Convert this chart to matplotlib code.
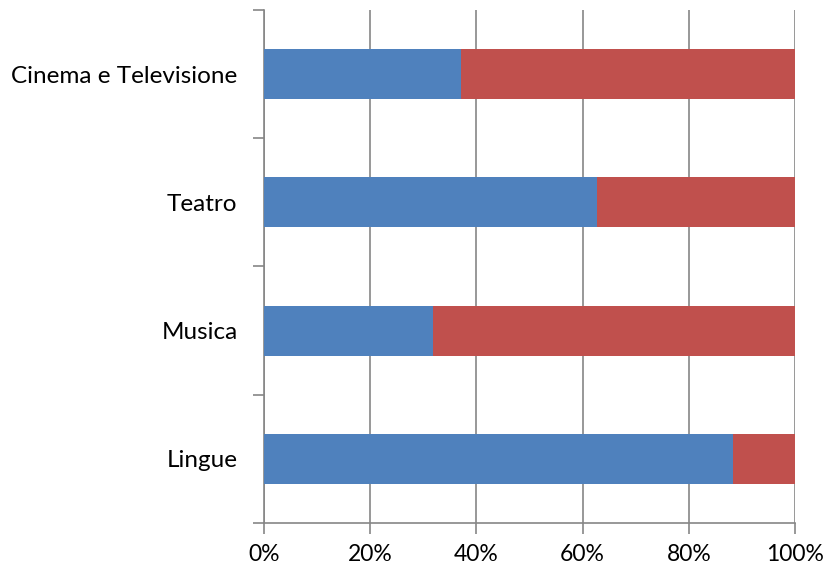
import matplotlib.pyplot as plt
import numpy as np

plt.rcParams['font.family'] = ['Lato', 'DejaVu Sans']

# categorie dal basso verso l'alto
categorie = ['Lingue', 'Musica', 'Teatro', 'Cinema e Televisione']
serie1 = np.array([88.3, 31.8, 62.7, 37.1])
serie2 = 100 - serie1

fig = plt.figure(figsize=(8.28, 5.67), dpi=100)
ax = fig.add_axes([0.3188, 0.0776, 0.6413, 0.9048])

y = np.arange(len(categorie))
ax.barh(y, serie1, height=0.39, color='#4F81BD', zorder=3)
ax.barh(y, serie2, left=serie1, height=0.39, color='#C0504D', zorder=3)

ax.set_xlim(0, 100)
ax.set_ylim(-0.5, len(categorie) - 0.5)
ax.set_xticks(np.arange(0, 101, 20))
ax.set_xticklabels([f'{v}%' for v in range(0, 101, 20)])
ax.set_yticks(y)
ax.set_yticklabels(categorie)
ax.set_yticks(np.arange(-0.5, len(categorie)), minor=True)

grigio = '#868686'
ax.grid(axis='x', color=grigio, linewidth=1.2, zorder=0)
for s in ['top', 'right']:
    ax.spines[s].set_visible(False)
for s in ['left', 'bottom']:
    ax.spines[s].set_color(grigio)
    ax.spines[s].set_linewidth(1.2)

ax.tick_params(axis='y', which='major', length=0, pad=19, labelsize=17.5)
ax.tick_params(axis='y', which='minor', length=8, color=grigio, width=1.2)
ax.tick_params(axis='x', length=8, color=grigio, width=1.2, pad=7, labelsize=16.5)

plt.savefig('out.png', dpi=100)
